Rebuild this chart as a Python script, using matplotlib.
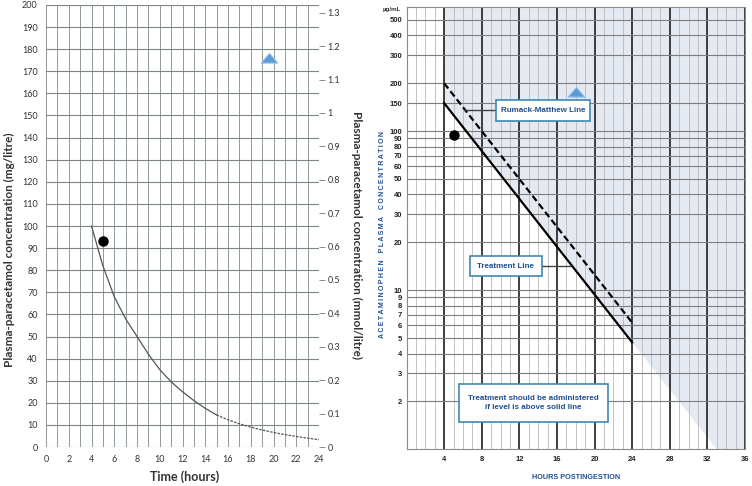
import matplotlib
matplotlib.use("Agg")
import matplotlib.pyplot as plt
import matplotlib.patches as mpatches
import numpy as np

# ---------------- data ----------------
# Left chart: paracetamol decay curve (mg/litre)
curve_hours = [4, 5, 6, 7, 8, 9, 10, 11, 12, 13, 14, 15, 16, 17, 18, 19, 20, 21, 22, 23, 24]
curve_mg = [100, 82, 68, 58, 50, 42, 35, 29.5, 25, 21, 17.5, 14.5, 12.3, 10.5, 9, 7.7, 6.6, 5.6, 4.8, 4, 3.3]
solid_until = 15  # curve drawn solid up to this hour, dotted afterwards
left_dot = (5, 93)
left_triangle = (19.6, 176)
left_xticks = list(range(0, 25, 2))
left_yticks = list(range(0, 201, 10))
mmol_ticks = [round(0.1 * i, 1) for i in range(0, 14)]
mg_per_mmol = 151.16

# Right chart: Rumack-Matthew nomogram
rm_hours = [4, 24]
rm_conc = [200, 6.25]
treat_hours = [4, 24]
treat_conc = [150, 4.7]
shade_hours = [4, 24, 33, 36]
shade_conc = [150, 4.7, 1, 1]
right_dot = (5, 94)
right_triangle = (18, 175)
right_xticks = [4, 8, 12, 16, 20, 24, 28, 32, 36]
right_yticks = [2, 3, 4, 5, 6, 7, 8, 9, 10, 20, 30, 40, 50, 60, 70, 80, 90, 100, 150, 200, 300, 400, 500]

# ---------------- figure ----------------
fig = plt.figure(figsize=(7.52, 4.86), dpi=100)
W, H = 752, 486

def fx(px):
    return px / W

def fy(py):
    return 1 - py / H

left_font = ['Lato', 'DejaVu Sans']
narrow = ['Liberation Sans', 'DejaVu Sans']
blue_text = '#1f4f8f'
box_edge = '#3f86b3'
tri_marker = [(-1, -0.55), (1, -0.55), (0, 0.6), (-1, -0.55)]

# ---- Left chart ----
axL = fig.add_axes([fx(46), fy(447), (319 - 46) / W, (447 - 5) / H])
axL.set_xlim(0, 24)
axL.set_ylim(0, 200)
axL.set_xticks(left_xticks)
axL.set_xticks(range(0, 25), minor=True)
axL.set_yticks(left_yticks)
for s in axL.spines.values():
    s.set_visible(False)
axL.grid(True, which='both', axis='x', color='#8f9a96', lw=0.7)
axL.grid(True, which='major', axis='y', color='#7c8783', lw=0.8)
axL.tick_params(axis='both', which='both', length=0, labelsize=6.5, colors='#333333')
axL.tick_params(axis='x', pad=6)
axL.tick_params(axis='y', pad=6)
for lab in axL.get_xticklabels() + axL.get_yticklabels():
    lab.set_family(left_font)

hrs = np.array(curve_hours)
mg = np.array(curve_mg)
m1 = hrs <= solid_until
m2 = hrs >= solid_until
axL.plot(hrs[m1], mg[m1], color='#555555', lw=0.9, zorder=3)
axL.plot(hrs[m2], mg[m2], color='#555555', lw=0.9, ls=(0, (2, 1)), zorder=3)
axL.plot([left_dot[0]], [left_dot[1]], 'o', color='black', ms=6.5, zorder=4)
axL.plot([left_triangle[0]], [left_triangle[1]], marker=tri_marker, color='#5b9bd5',
         mec='#8fbfea', mew=0.8, ms=12, ls='none', zorder=4)

axR = axL.twinx()
axR.set_ylim(0, 200 / mg_per_mmol)
axR.set_yticks(mmol_ticks)
axR.set_yticklabels([('%g' % v) for v in mmol_ticks])
for s in axR.spines.values():
    s.set_visible(False)
axR.tick_params(axis='y', length=4, width=0.6, color='#777777', labelsize=6.5,
                labelcolor='#333333', pad=2)
for lab in axR.get_yticklabels():
    lab.set_family(left_font)

fig.text(fx(9), fy(250), 'Plasma-paracetamol concentration (mg/litre)', rotation=90,
         ha='center', va='center', fontsize=8.5, fontweight='bold', family=left_font,
         color='#333333')
fig.text(fx(357), fy(235), 'Plasma-paracetamol concentration (mmol/litre)', rotation=270,
         ha='center', va='center', fontsize=8.5, fontweight='bold', family=left_font,
         color='#333333')
fig.text(fx(185), fy(477), 'Time (hours)', ha='center', va='center', fontsize=9,
         fontweight='bold', family=left_font, color='#333333')

# ---- Right chart ----
ax2 = fig.add_axes([fx(406.5), fy(449.3), (745 - 406.5) / W, 442 / H])
ax2.set_yscale('log')
ax2.set_xlim(0, 36)
ax2.set_ylim(1, 600)
ax2.set_xticks(right_xticks)
ax2.set_xticks(range(0, 37), minor=True)
ax2.set_yticks(right_yticks)
ax2.set_yticklabels([str(v) for v in right_yticks])
ax2.yaxis.set_minor_locator(matplotlib.ticker.NullLocator())
for s in ax2.spines.values():
    s.set_color('#8a8a8a')
    s.set_linewidth(0.8)

ax2.fill_between(shade_hours, shade_conc, 600, color='#e5eaf2', lw=0, zorder=0)
ax2.grid(True, which='minor', axis='x', color='#b8b8b8', lw=0.6, zorder=1)
ax2.grid(True, which='major', axis='x', color='#2e2e2e', lw=1.3, zorder=1)
ax2.grid(True, which='major', axis='y', color='#7d7d7d', lw=0.8, zorder=1)
ax2.set_axisbelow(True)
ax2.tick_params(axis='both', which='both', length=0, labelsize=5.5, colors='#222222')
ax2.tick_params(axis='x', pad=5)
ax2.tick_params(axis='y', pad=3)
for lab in ax2.get_xticklabels() + ax2.get_yticklabels():
    lab.set_family(narrow)
    lab.set_fontweight('bold')

ax2.plot(rm_hours, rm_conc, color='black', lw=1.6, ls=(0, (3, 1.6)), zorder=3)
ax2.plot(treat_hours, treat_conc, color='black', lw=1.6, zorder=3)
ax2.plot([right_dot[0]], [right_dot[1]], 'o', color='black', ms=6.5, zorder=4)
ax2.plot([right_triangle[0]], [right_triangle[1]], marker=tri_marker, color='#5b9bd5',
         mec='#8fbfea', mew=0.8, ms=12, ls='none', zorder=4)

def afx(px):
    return (px - 406.5) / 338.5

def afy(py):
    return (449.3 - py) / 442

def box(x0, y0, x1, y1, text, fs=5.8):
    r = mpatches.Rectangle((afx(x0), afy(y1)), afx(x1) - afx(x0), afy(y0) - afy(y1),
                           transform=ax2.transAxes, facecolor='white', edgecolor=box_edge,
                           lw=1.2, zorder=5)
    ax2.add_patch(r)
    ax2.text((afx(x0) + afx(x1)) / 2, (afy(y0) + afy(y1)) / 2, text, transform=ax2.transAxes,
             ha='center', va='center', fontsize=fs, fontweight='bold', family=narrow,
             color=blue_text, zorder=6, linespacing=1.5)

def connector(x0, x1, y):
    ax2.plot([afx(x0), afx(x1)], [afy(y), afy(y)], transform=ax2.transAxes,
             color='#444444', lw=1.0, zorder=4)

connector(465, 496, 110.3)
box(496, 100, 590, 120.7, 'Rumack-Matthew Line')
connector(541.7, 570, 266)
box(470, 256, 541.7, 276, 'Treatment Line')
box(459, 384, 608, 421.7, 'Treatment should be administered\nif level is above solid line')

fig.text(fx(392), fy(10), 'µg/mL', ha='center', va='center', fontsize=4.5,
         family=narrow, color='#333333', fontweight='bold')
fig.text(fx(576), fy(477), 'HOURS POSTINGESTION', ha='center', va='center', fontsize=5.2,
         fontweight='bold', family=narrow, color=blue_text)
ylabel_words = ['ACETAMINOPHEN', 'PLASMA', 'CONCENTRATION']
ylabel = '\u2002\u2002'.join('\u2009'.join(w) for w in ylabel_words)
fig.text(fx(382), fy(234), ylabel, rotation=90, ha='center', va='center', fontsize=5,
         fontweight='bold', family=narrow, color=blue_text)

fig.savefig('out.png', dpi=100)
